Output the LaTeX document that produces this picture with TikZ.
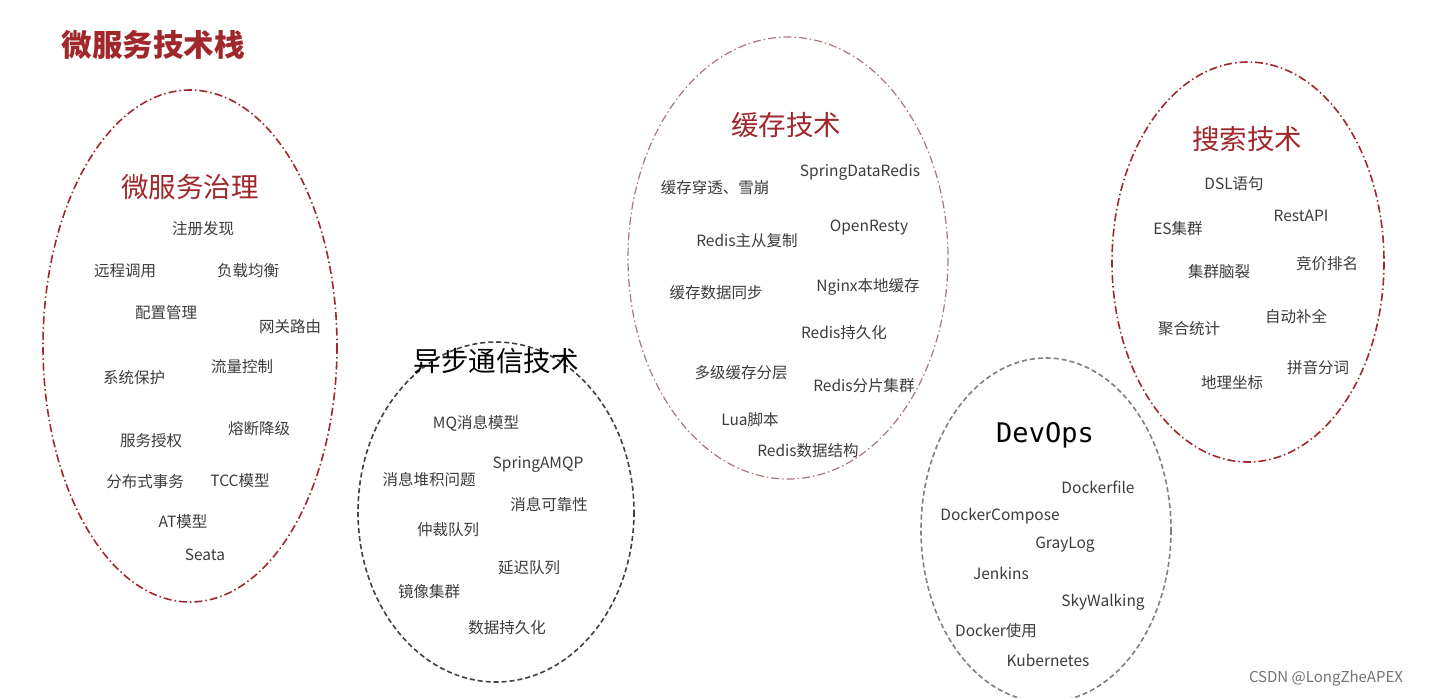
\documentclass[tikz,border=0pt]{standalone}
\usepackage{fontspec}
\setmainfont{Noto Sans CJK SC}
\newfontfamily\cjk{Noto Sans CJK SC}
\newfontfamily\monof{DejaVu Sans Mono}
\definecolor{dred}{RGB}{160,40,45}
\definecolor{pinkb}{RGB}{170,120,120}
\definecolor{itm}{RGB}{60,60,60}
\begin{document}
\begin{tikzpicture}[x=1pt,y=-1pt,
  it/.style={font=\cjk\fontsize{15.5}{18}\selectfont,text=itm,inner sep=0pt},
  ttl/.style={font=\cjk\fontsize{27.5}{30}\selectfont,text=dred,inner sep=0pt},
  ring/.style={draw,line width=1.6pt},
  dd/.style={dash pattern=on 8pt off 3pt on 1.5pt off 3pt},
  ds/.style={dash pattern=on 5pt off 3pt}]
\useasboundingbox[fill=white] (0,0) rectangle (1433,697);
\node[font=\cjk\bfseries\fontsize{30.5}{32}\selectfont,text=dred,inner sep=0pt] (title) at (153,45) {微服务技术栈};
% ellipses
\draw[ring,dred,dd] (190,346) ellipse [x radius=147,y radius=256];
\draw[ring,black!75,ds] (496,512) ellipse [x radius=138,y radius=170];
\draw[ring,pinkb,dd,line width=1.2pt] (788,258) ellipse [x radius=160,y radius=221];
\draw[ring,dred,dd] (1248,262) ellipse [x radius=136,y radius=200];
\draw[ring,black!50,ds] (1046,530) ellipse [x radius=125,y radius=172];
% group 1
\node[ttl] (t1) at (190,187) {微服务治理};
\node[it] (a1) at (203,229) {注册发现};
\node[it] (a2) at (125,271) {远程调用};
\node[it] (a3) at (248,271) {负载均衡};
\node[it] (a4) at (166,313) {配置管理};
\node[it] (a5) at (290,327) {网关路由};
\node[it] (a6) at (242,367) {流量控制};
\node[it] (a7) at (134,378) {系统保护};
\node[it] (a8) at (259,429) {熔断降级};
\node[it] (a9) at (151,441) {服务授权};
\node[it] (a10) at (145,482) {分布式事务};
\node[it] (a11) at (240,481) {TCC模型};
\node[it] (a12) at (183,522) {AT模型};
\node[it] (a13) at (205,555) {Seata};
% group 2
\node[font=\cjk\fontsize{27.5}{30}\selectfont,inner sep=0pt] (t2) at (496,361) {异步通信技术};
\node[it] (b1) at (476,423) {MQ消息模型};
\node[it] (b2) at (538,464) {SpringAMQP};
\node[it] (b3) at (429,480) {消息堆积问题};
\node[it] (b4) at (549,505) {消息可靠性};
\node[it] (b5) at (448,530) {仲裁队列};
\node[it] (b6) at (529,568) {延迟队列};
\node[it] (b7) at (429,592) {镜像集群};
\node[it] (b8) at (507,628) {数据持久化};
% group 3
\node[ttl] (t3) at (786,125) {缓存技术};
\node[it] (c1) at (860,172) {SpringDataRedis};
\node[it] (c2) at (715,188) {缓存穿透、雪崩};
\node[it] (c3) at (869,228) {OpenResty};
\node[it] (c4) at (747,241) {Redis主从复制};
\node[it] (c5) at (716,293) {缓存数据同步};
\node[it] (c6) at (868,287) {Nginx本地缓存};
\node[it] (c7) at (844,333) {Redis持久化};
\node[it] (c8) at (741,373) {多级缓存分层};
\node[it] (c9) at (864,386) {Redis分片集群};
\node[it] (c10) at (750,420) {Lua脚本};
\node[it] (c11) at (808,451) {Redis数据结构};
% group 4
\node[ttl] (t4) at (1247,139) {搜索技术};
\node[it] (d1) at (1234,184) {DSL语句};
\node[it] (d2) at (1301,216) {RestAPI};
\node[it] (d3) at (1178,229) {ES集群};
\node[it] (d4) at (1327,264) {竞价排名};
\node[it] (d5) at (1219,272) {集群脑裂};
\node[it] (d6) at (1296,317) {自动补全};
\node[it] (d7) at (1189,329) {聚合统计};
\node[it] (d8) at (1318,368) {拼音分词};
\node[it] (d9) at (1232,383) {地理坐标};
% group 5
\node[font=\monof\fontsize{27}{30}\selectfont,inner sep=0pt] (t5) at (1045,435) {DevOps};
\node[it] (e1) at (1098,487) {Dockerfile};
\node[it] (e2) at (1000,516) {DockerCompose};
\node[it] (e3) at (1065,545) {GrayLog};
\node[it] (e4) at (1001,573) {Jenkins};
\node[it] (e5) at (1103,602) {SkyWalking};
\node[it] (e6) at (996,631) {Docker使用};
\node[it] (e7) at (1048,660) {Kubernetes};
\node[font=\cjk\fontsize{15}{17}\selectfont,text=black!55,inner sep=0pt] (wm) at (1326,678) {CSDN @LongZheAPEX};
\end{tikzpicture}
\end{document}
